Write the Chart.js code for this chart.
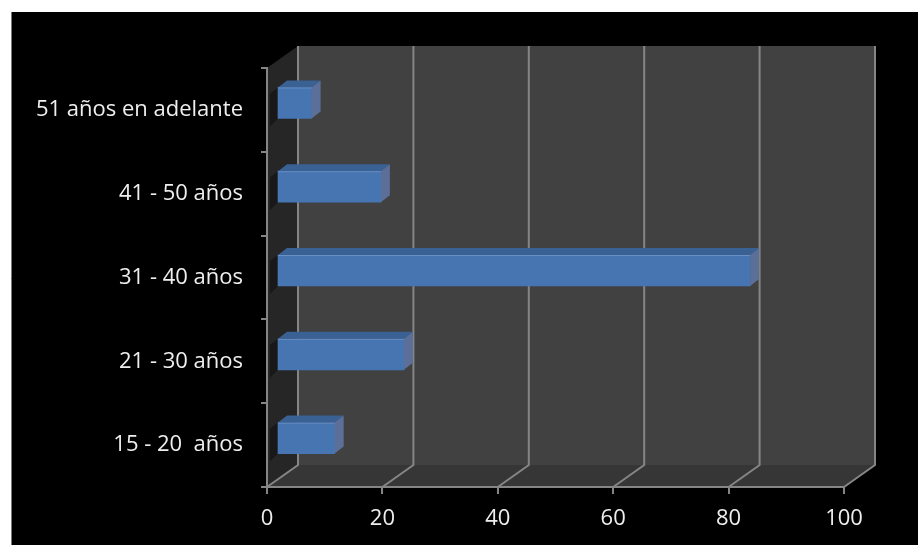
<!DOCTYPE html>
<html>
<head>
<meta charset="utf-8">
<script src="https://cdn.jsdelivr.net/npm/chart.js@4"></script>
<style>
html,body{margin:0;padding:0;background:#fff;}
#wrap{width:918px;height:545px;position:relative;}
</style>
</head>
<body>
<div id="wrap"><canvas id="c" width="918" height="545"></canvas></div>
<script>
const categories = ["15 - 20  años", "21 - 30 años", "31 - 40 años", "41 - 50 años", "51 años en adelante"];
const values = [10, 22, 82, 18, 6];
const valueTicks = [0, 20, 40, 60, 80, 100];

const DEPTH = {x: 31, y: -22};   // wall depth
const BAR_OFF = {x: 10, y: -7};   // bar front plane offset
const BAR_D = {x: 9, y: -7};      // bar depth

const scene3d = {
  id: 'scene3d',
  beforeDraw(chart) {
    const ctx = chart.ctx;
    const xs = chart.scales.x;
    const ca = chart.chartArea;
    ctx.save();
    ctx.fillStyle = '#ffffff';
    ctx.fillRect(0, 0, chart.width, chart.height);
    ctx.fillStyle = '#000000';
    ctx.fillRect(11, 12, chart.width - 11, chart.height - 12);
    ctx.strokeStyle = '#7a7a7a';
    ctx.lineWidth = 1;
    ctx.beginPath(); ctx.moveTo(11.5, 12); ctx.lineTo(11.5, chart.height); ctx.stroke();

    const x0 = xs.getPixelForValue(0), x1 = xs.getPixelForValue(100);
    const top = ca.top, bot = ca.bottom;
    const dx = DEPTH.x, dy = DEPTH.y;
    ctx.fillStyle = '#414141';
    ctx.fillRect(x0 + dx, top + dy, x1 - x0, bot - top);
    ctx.fillStyle = '#262626';
    ctx.beginPath();
    ctx.moveTo(x0, top); ctx.lineTo(x0 + dx, top + dy); ctx.lineTo(x0 + dx, bot + dy); ctx.lineTo(x0, bot);
    ctx.closePath(); ctx.fill();
    ctx.fillStyle = '#363636';
    ctx.beginPath();
    ctx.moveTo(x0, bot); ctx.lineTo(x1, bot); ctx.lineTo(x1 + dx, bot + dy); ctx.lineTo(x0 + dx, bot + dy);
    ctx.closePath(); ctx.fill();
    ctx.strokeStyle = '#858585';
    ctx.lineWidth = 2;
    valueTicks.forEach(v => {
      const px = xs.getPixelForValue(v);
      ctx.beginPath();
      ctx.moveTo(px + dx, top + dy);
      ctx.lineTo(px + dx, bot + dy);
      ctx.lineTo(px, bot);
      ctx.stroke();
    });
    ctx.restore();
  },
  beforeDatasetsDraw(chart) {
    const ctx = chart.ctx;
    // soft shadows of the bars on the side wall
    const meta = chart.getDatasetMeta(0);
    ctx.save();
    ctx.fillStyle = 'rgba(0,0,0,0.35)';
    meta.data.forEach(bar => {
      const p = bar.getProps(['y', 'base', 'height'], true);
      const t = p.y - p.height / 2 + BAR_OFF.y, b = p.y + p.height / 2 + BAR_OFF.y;
      const l = p.base;
      ctx.beginPath();
      ctx.moveTo(l + 2, t + 6); ctx.lineTo(l + BAR_OFF.x, t); ctx.lineTo(l + BAR_OFF.x, b); ctx.lineTo(l + 2, b + 8);
      ctx.closePath(); ctx.fill();
    });
    ctx.restore();
    ctx.save();
    ctx.translate(BAR_OFF.x, BAR_OFF.y);
  },
  afterDatasetsDraw(chart) {
    const ctx = chart.ctx;
    const meta = chart.getDatasetMeta(0);
    meta.data.forEach(bar => {
      const p = bar.getProps(['x', 'y', 'base', 'height'], true);
      const t = p.y - p.height / 2, b = p.y + p.height / 2;
      const l = p.base, r = p.x;
      ctx.fillStyle = '#3a6194';
      ctx.beginPath();
      ctx.moveTo(l, t); ctx.lineTo(r, t); ctx.lineTo(r + BAR_D.x, t + BAR_D.y); ctx.lineTo(l + BAR_D.x, t + BAR_D.y);
      ctx.closePath(); ctx.fill();
      ctx.fillStyle = '#5b6f99';
      ctx.beginPath();
      ctx.moveTo(r, t); ctx.lineTo(r + BAR_D.x, t + BAR_D.y); ctx.lineTo(r + BAR_D.x, b + BAR_D.y); ctx.lineTo(r, b);
      ctx.closePath(); ctx.fill();
      ctx.strokeStyle = 'rgba(140,170,215,0.5)';
      ctx.lineWidth = 1;
      ctx.beginPath(); ctx.moveTo(l, t + 0.5); ctx.lineTo(r, t + 0.5); ctx.stroke();
    });
    ctx.restore();
  }
};

new Chart(document.getElementById('c'), {
  type: 'bar',
  data: {
    labels: categories,
    datasets: [{
      data: values,
      backgroundColor: '#4775b2',
      borderWidth: 0,
      barThickness: 31
    }]
  },
  options: {
    indexAxis: 'y',
    responsive: false,
    animation: false,
    events: [],
    layout: {padding: {left: 0, right: 74, top: 68, bottom: 18}},
    plugins: {legend: {display: false}, tooltip: {enabled: false}},
    scales: {
      x: {
        min: 0, max: 100,
        afterFit(s) { s.height = 40; },
        afterBuildTicks(s) { s.ticks = valueTicks.map(v => ({value: v})); },
        grid: {drawOnChartArea: false, drawTicks: true, tickLength: 7, color: '#858585', lineWidth: 2},
        border: {display: true, color: '#858585', width: 2},
        ticks: {color: '#eeeeee', padding: 12, font: {family: 'Open Sans', size: 22}, maxRotation: 0}
      },
      y: {
        reverse: true,
        afterFit(s) { s.width = 267; },
        grid: {drawOnChartArea: false, drawTicks: true, tickLength: 6, color: '#858585', lineWidth: 2, offset: true},
        border: {display: true, color: '#858585', width: 2},
        ticks: {color: '#eeeeee', padding: 18, font: {family: 'Open Sans', size: 22}}
      }
    }
  },
  plugins: [scene3d]
});
</script>
</body>
</html>
